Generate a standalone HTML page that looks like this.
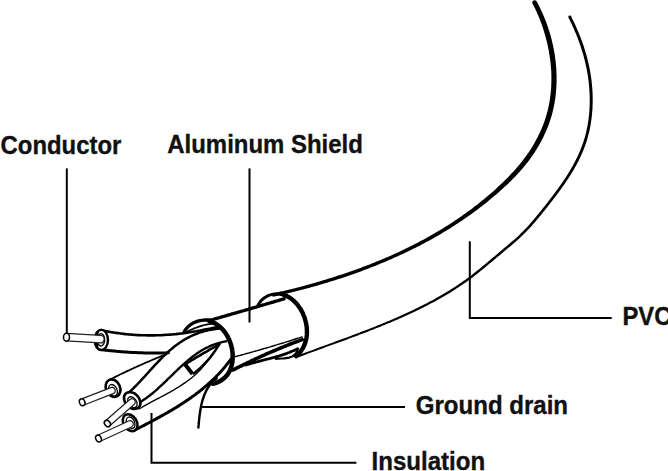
<!DOCTYPE html>
<html><head><meta charset="utf-8"><style>
html,body{margin:0;padding:0;background:#fff;width:668px;height:471px;overflow:hidden}
.f{fill:#000;stroke:none}
</style></head><body>
<svg width="668" height="471" viewBox="0 0 668 471" style="position:absolute;left:0;top:0">
<g fill="none" stroke="#000" stroke-linecap="round" stroke-linejoin="round">
<path d="M66.8,168.4 V333" stroke-width="2" stroke-linecap="butt"/>
<path d="M249.5,168.4 V322.5" stroke-width="2" stroke-linecap="butt"/>
<path d="M469.8,241.3 V318.1 H611.7" stroke-width="2" stroke-linecap="butt" stroke-linejoin="miter"/>
<path d="M202.1,407.1 H405" stroke-width="2" stroke-linecap="butt"/>
<path d="M151.5,413 V462.8 H356.4" stroke-width="2" stroke-linecap="butt" stroke-linejoin="miter"/>
<path d="M532.6,3.6 L533.3,4.9 L533.9,6.2 L534.6,7.5 L535.2,8.8 L535.8,10.2 L536.5,11.5 L537.1,12.9 L537.6,14.2 L538.2,15.6 L538.8,16.9 L539.4,18.3 L539.9,19.7 L540.4,21.1 L541.0,22.5 L541.5,23.9 L542.0,25.3 L542.4,26.7 L542.9,28.1 L543.4,29.5 L543.8,31.0 L544.3,32.4 L544.7,33.9 L545.1,35.3 L545.5,36.7 L545.9,38.2 L546.3,39.6 L546.7,41.1 L547.0,42.6 L547.4,44.0 L547.7,45.5 L548.0,47.0 L548.3,48.5 L548.6,49.9 L548.9,51.4 L549.1,52.9 L549.4,54.4 L549.6,55.9 L549.8,57.4 L550.1,58.9 L550.2,60.3 L550.4,61.8 L550.6,63.3 L550.7,64.8 L550.9,66.3 L551.0,67.8 L551.1,69.3 L551.2,70.8 L551.3,72.3 L551.3,73.8 L551.4,75.3 L551.4,76.8 L551.4,78.3 L551.4,79.8 L551.4,81.3 L551.3,82.8 L551.3,84.3 L551.2,85.8 L551.2,87.2 L551.1,88.7 L550.9,90.2 L550.8,91.7 L550.7,93.1 L550.5,94.6 L550.3,96.1 L550.1,97.5 L549.9,99.0 L549.7,100.5 L549.5,101.9 L549.2,103.4 L548.9,104.8 L548.6,106.2 L548.3,107.7 L548.0,109.1 L547.7,110.5 L547.3,111.9 L546.9,113.3 L546.5,114.7 L546.1,116.1 L545.7,117.5 L545.2,118.9 L544.8,120.3 L544.3,121.7 L543.8,123.1 L543.3,124.4 L542.8,125.8 L542.2,127.1 L541.7,128.5 L541.1,129.8 L540.5,131.2 L539.9,132.5 L539.3,133.8 L538.6,135.1 L538.0,136.5 L537.3,137.8 L536.6,139.1 L535.9,140.3 L535.2,141.6 L534.5,142.9 L533.8,144.2 L533.0,145.4 L532.3,146.7 L531.5,147.9 L530.7,149.2 L529.9,150.4 L529.1,151.7 L528.3,152.9 L527.4,154.1 L526.6,155.3 L525.7,156.5 L524.8,157.7 L523.9,158.9 L523.0,160.0 L522.1,161.2 L521.2,162.4 L520.3,163.5 L519.3,164.7 L518.4,165.8 L517.4,167.0 L516.5,168.1 L515.5,169.2 L514.5,170.3 L513.5,171.4 L512.5,172.5 L511.4,173.6 L510.4,174.7 L509.4,175.8 L508.3,176.9 L507.3,178.0 L506.2,179.0 L505.2,180.1 L504.1,181.1 L503.0,182.2 L501.9,183.2 L500.8,184.3 L499.7,185.3 L498.6,186.3 L497.5,187.3 L496.4,188.4 L495.3,189.4 L494.2,190.4 L493.1,191.4 L491.9,192.4 L490.8,193.4 L489.7,194.3 L488.5,195.3 L487.4,196.3 L486.2,197.3 L485.1,198.2 L483.9,199.2 L482.8,200.1 L481.6,201.1 L480.4,202.0 L479.3,203.0 L478.1,203.9 L476.9,204.8 L475.7,205.7 L474.5,206.6 L473.3,207.6 L472.1,208.5 L470.9,209.4 L469.7,210.3 L468.5,211.1 L467.3,212.0 L466.1,212.9 L464.9,213.8 L463.7,214.6 L462.4,215.5 L461.2,216.4 L460.0,217.2 L458.7,218.1 L457.5,218.9 L456.3,219.8 L455.0,220.6 L453.8,221.4 L452.5,222.2 L451.3,223.1 L450.0,223.9 L448.7,224.7 L447.5,225.5 L446.2,226.3 L444.9,227.1 L443.6,227.9 L442.4,228.7 L441.1,229.4 L439.8,230.2 L438.5,231.0 L437.2,231.8 L435.9,232.5 L434.6,233.3 L433.3,234.0 L432.0,234.8 L430.7,235.5 L429.4,236.3 L428.1,237.0 L426.8,237.7 L425.5,238.4 L424.2,239.2 L422.8,239.9 L421.5,240.6 L420.2,241.3 L418.9,242.0 L417.5,242.7 L416.2,243.4 L414.9,244.1 L413.5,244.8 L412.2,245.5 L410.8,246.1 L409.5,246.8 L408.1,247.5 L406.8,248.1 L405.4,248.8 L404.1,249.5 L402.7,250.1 L401.4,250.8 L400.0,251.4 L398.6,252.0 L397.3,252.7 L395.9,253.3 L394.5,253.9 L393.1,254.5 L391.8,255.2 L390.4,255.8 L389.0,256.4 L387.6,257.0 L386.2,257.6 L384.9,258.2 L383.5,258.8 L382.1,259.3 L380.7,259.9 L379.3,260.5 L377.9,261.1 L376.5,261.6 L375.1,262.2 L373.7,262.8 L372.3,263.3 L370.9,263.9 L369.5,264.4 L368.1,265.0 L366.7,265.5 L365.3,266.1 L363.9,266.6 L362.5,267.1 L361.1,267.7 L359.6,268.2 L358.2,268.7 L356.8,269.2 L355.4,269.7 L354.0,270.2 L352.5,270.7 L351.1,271.2 L349.7,271.7 L348.3,272.2 L346.9,272.7 L345.4,273.2 L344.0,273.7 L342.6,274.2 L341.1,274.7 L339.7,275.1 L338.3,275.6 L336.8,276.1 L335.4,276.5 L334.0,277.0 L332.5,277.4 L331.1,277.9 L329.7,278.3 L328.2,278.8 L326.8,279.2 L325.4,279.7 L323.9,280.1 L322.5,280.5 L321.0,281.0 L319.6,281.4 L318.2,281.8 L316.7,282.2 L315.3,282.7 L313.8,283.1 L312.4,283.5 L310.9,283.9 L309.5,284.3 L308.1,284.7 L306.6,285.1 L305.2,285.5 L303.7,285.9 L302.3,286.3 L300.8,286.7 L299.4,287.0 L297.9,287.4 L296.5,287.8 L295.0,288.2 L293.6,288.5 L292.1,288.9 L290.7,289.3 L289.3,289.6 L287.8,290.0 L286.4,290.3 L284.9,290.7 L283.5,291.0 L282.0,291.4 L280.6,291.7 L279.1,292.1 L277.7,292.4 L276.2,292.7 L274.8,293.1 L273.3,293.4 L271.9,293.7 L272.6,296.8 L274.0,296.5 L275.5,296.2 L276.9,295.9 L278.4,295.5 L279.9,295.2 L281.3,294.9 L282.8,294.5 L284.2,294.2 L285.7,293.8 L287.1,293.5 L288.6,293.1 L290.0,292.8 L291.5,292.4 L292.9,292.1 L294.4,291.7 L295.8,291.3 L297.3,291.0 L298.8,290.6 L300.2,290.2 L301.7,289.8 L303.1,289.5 L304.6,289.1 L306.0,288.7 L307.5,288.3 L308.9,287.9 L310.4,287.5 L311.8,287.1 L313.3,286.7 L314.7,286.3 L316.2,285.9 L317.6,285.5 L319.1,285.0 L320.5,284.6 L322.0,284.2 L323.4,283.8 L324.9,283.3 L326.3,282.9 L327.8,282.5 L329.2,282.0 L330.7,281.6 L332.1,281.1 L333.6,280.7 L335.0,280.2 L336.4,279.8 L337.9,279.3 L339.3,278.8 L340.8,278.4 L342.2,277.9 L343.6,277.4 L345.1,276.9 L346.5,276.4 L348.0,275.9 L349.4,275.5 L350.8,275.0 L352.2,274.5 L353.7,274.0 L355.1,273.4 L356.5,272.9 L358.0,272.4 L359.4,271.9 L360.8,271.4 L362.2,270.8 L363.7,270.3 L365.1,269.8 L366.5,269.2 L367.9,268.7 L369.3,268.2 L370.7,267.6 L372.2,267.1 L373.6,266.5 L375.0,265.9 L376.4,265.4 L377.8,264.8 L379.2,264.2 L380.6,263.6 L382.0,263.1 L383.4,262.5 L384.8,261.9 L386.2,261.3 L387.6,260.7 L389.0,260.1 L390.4,259.5 L391.8,258.9 L393.2,258.3 L394.5,257.6 L395.9,257.0 L397.3,256.4 L398.7,255.8 L400.1,255.1 L401.4,254.5 L402.8,253.9 L404.2,253.2 L405.6,252.6 L406.9,251.9 L408.3,251.3 L409.7,250.6 L411.0,249.9 L412.4,249.3 L413.7,248.6 L415.1,247.9 L416.5,247.2 L417.8,246.5 L419.2,245.9 L420.5,245.2 L421.8,244.5 L423.2,243.8 L424.5,243.0 L425.9,242.3 L427.2,241.6 L428.5,240.9 L429.9,240.2 L431.2,239.4 L432.5,238.7 L433.8,237.9 L435.1,237.2 L436.5,236.4 L437.8,235.7 L439.1,234.9 L440.4,234.2 L441.7,233.4 L443.0,232.6 L444.3,231.8 L445.6,231.1 L446.9,230.3 L448.2,229.5 L449.5,228.7 L450.7,227.9 L452.0,227.1 L453.3,226.2 L454.6,225.4 L455.8,224.6 L457.1,223.8 L458.4,222.9 L459.6,222.1 L460.9,221.3 L462.2,220.4 L463.4,219.6 L464.7,218.7 L465.9,217.8 L467.2,217.0 L468.4,216.1 L469.6,215.2 L470.9,214.4 L472.1,213.5 L473.3,212.6 L474.5,211.7 L475.8,210.8 L477.0,209.9 L478.2,209.0 L479.4,208.0 L480.6,207.1 L481.8,206.2 L483.0,205.2 L484.2,204.3 L485.4,203.4 L486.6,202.4 L487.8,201.5 L488.9,200.5 L490.1,199.6 L491.3,198.6 L492.5,197.6 L493.6,196.6 L494.8,195.6 L495.9,194.7 L497.1,193.7 L498.2,192.7 L499.4,191.7 L500.5,190.6 L501.7,189.6 L502.8,188.6 L503.9,187.6 L505.0,186.5 L506.2,185.5 L507.3,184.4 L508.4,183.4 L509.5,182.3 L510.6,181.2 L511.7,180.2 L512.7,179.1 L513.8,178.0 L514.9,176.9 L515.9,175.8 L517.0,174.7 L518.0,173.5 L519.0,172.4 L520.1,171.3 L521.1,170.1 L522.1,169.0 L523.1,167.8 L524.1,166.6 L525.0,165.5 L526.0,164.3 L526.9,163.1 L527.9,161.9 L528.8,160.7 L529.7,159.4 L530.6,158.2 L531.5,157.0 L532.4,155.7 L533.2,154.5 L534.1,153.2 L534.9,151.9 L535.7,150.6 L536.6,149.3 L537.3,148.0 L538.1,146.7 L538.9,145.4 L539.6,144.1 L540.4,142.8 L541.1,141.4 L541.8,140.1 L542.5,138.7 L543.2,137.4 L543.8,136.0 L544.5,134.6 L545.1,133.3 L545.7,131.9 L546.4,130.5 L546.9,129.1 L547.5,127.7 L548.1,126.3 L548.6,124.8 L549.1,123.4 L549.6,122.0 L550.1,120.5 L550.6,119.1 L551.0,117.6 L551.5,116.2 L551.9,114.7 L552.3,113.2 L552.7,111.8 L553.0,110.3 L553.4,108.8 L553.7,107.3 L554.0,105.8 L554.3,104.3 L554.6,102.8 L554.8,101.3 L555.1,99.8 L555.3,98.3 L555.5,96.7 L555.7,95.2 L555.8,93.7 L556.0,92.2 L556.1,90.6 L556.2,89.1 L556.3,87.5 L556.4,86.0 L556.5,84.5 L556.5,82.9 L556.6,81.4 L556.6,79.8 L556.6,78.3 L556.6,76.7 L556.6,75.2 L556.5,73.6 L556.4,72.1 L556.4,70.5 L556.3,69.0 L556.2,67.4 L556.0,65.9 L555.9,64.3 L555.8,62.8 L555.6,61.3 L555.4,59.7 L555.2,58.2 L555.0,56.6 L554.8,55.1 L554.5,53.6 L554.3,52.0 L554.0,50.5 L553.7,49.0 L553.4,47.4 L553.1,45.9 L552.8,44.4 L552.4,42.9 L552.1,41.4 L551.7,39.8 L551.3,38.3 L550.9,36.8 L550.5,35.3 L550.1,33.9 L549.7,32.4 L549.2,30.9 L548.7,29.4 L548.2,28.0 L547.7,26.5 L547.2,25.0 L546.7,23.6 L546.2,22.2 L545.6,20.7 L545.0,19.3 L544.5,17.9 L543.9,16.5 L543.3,15.0 L542.7,13.7 L542.1,12.3 L541.4,10.9 L540.8,9.5 L540.1,8.1 L539.4,6.8 L538.8,5.4 L538.1,4.1 L537.4,2.8 L536.7,1.5Z" class="f"/>
<circle cx="534.6" cy="2.5" r="2.30" class="f"/>
<path d="M568.5,17.7 L569.2,19.0 L569.8,20.3 L570.5,21.7 L571.1,23.0 L571.8,24.4 L572.4,25.7 L573.0,27.1 L573.6,28.5 L574.2,29.8 L574.8,31.2 L575.4,32.6 L576.0,34.0 L576.5,35.3 L577.1,36.7 L577.6,38.1 L578.2,39.5 L578.7,40.9 L579.2,42.3 L579.7,43.7 L580.2,45.1 L580.7,46.6 L581.1,48.0 L581.6,49.4 L582.0,50.8 L582.5,52.3 L582.9,53.7 L583.3,55.1 L583.7,56.6 L584.1,58.0 L584.5,59.5 L584.8,60.9 L585.2,62.3 L585.5,63.8 L585.8,65.3 L586.1,66.7 L586.5,68.2 L586.7,69.6 L587.0,71.1 L587.3,72.6 L587.5,74.1 L587.8,75.5 L588.0,77.0 L588.2,78.5 L588.4,80.0 L588.6,81.5 L588.8,82.9 L588.9,84.4 L589.1,85.9 L589.2,87.4 L589.3,88.9 L589.4,90.4 L589.5,91.9 L589.6,93.4 L589.6,94.9 L589.7,96.4 L589.7,97.9 L589.7,99.4 L589.7,100.9 L589.7,102.4 L589.7,103.9 L589.6,105.4 L589.6,106.9 L589.5,108.4 L589.4,109.9 L589.3,111.4 L589.2,112.9 L589.1,114.4 L588.9,115.8 L588.7,117.3 L588.6,118.8 L588.4,120.3 L588.1,121.8 L587.9,123.2 L587.7,124.7 L587.4,126.2 L587.1,127.6 L586.8,129.1 L586.5,130.5 L586.2,132.0 L585.8,133.4 L585.5,134.8 L585.1,136.3 L584.7,137.7 L584.3,139.1 L583.8,140.5 L583.4,141.9 L582.9,143.3 L582.4,144.7 L581.9,146.1 L581.4,147.5 L580.8,148.8 L580.3,150.2 L579.7,151.6 L579.1,152.9 L578.5,154.3 L577.9,155.6 L577.3,157.0 L576.6,158.3 L576.0,159.6 L575.3,160.9 L574.6,162.3 L573.9,163.6 L573.2,164.9 L572.5,166.2 L571.7,167.5 L571.0,168.8 L570.2,170.1 L569.5,171.3 L568.7,172.6 L567.9,173.9 L567.1,175.2 L566.3,176.4 L565.5,177.7 L564.6,179.0 L563.8,180.2 L563.0,181.5 L562.1,182.7 L561.2,183.9 L560.4,185.2 L559.5,186.4 L558.6,187.7 L557.7,188.9 L556.8,190.1 L556.0,191.3 L555.1,192.5 L554.1,193.8 L553.2,195.0 L552.3,196.2 L551.4,197.4 L550.5,198.6 L549.6,199.8 L548.6,201.0 L547.7,202.2 L546.8,203.4 L545.8,204.6 L544.9,205.8 L544.0,206.9 L543.0,208.1 L542.1,209.3 L541.2,210.5 L540.2,211.6 L539.3,212.8 L538.3,214.0 L537.4,215.1 L536.4,216.3 L535.5,217.4 L534.5,218.6 L533.6,219.7 L532.6,220.8 L531.6,222.0 L530.6,223.1 L529.7,224.2 L528.7,225.3 L527.7,226.4 L526.7,227.5 L525.6,228.6 L524.6,229.6 L523.6,230.7 L522.5,231.7 L521.5,232.8 L520.4,233.8 L519.4,234.9 L518.3,235.9 L517.2,236.9 L516.1,237.9 L515.0,238.9 L513.9,239.9 L512.8,240.8 L511.6,241.8 L510.5,242.8 L509.4,243.8 L508.2,244.7 L507.1,245.7 L505.9,246.7 L504.8,247.6 L503.6,248.6 L502.5,249.6 L501.3,250.5 L500.1,251.5 L499.0,252.5 L497.8,253.4 L496.7,254.4 L495.5,255.4 L494.4,256.4 L493.2,257.3 L492.1,258.3 L490.9,259.3 L489.8,260.3 L488.6,261.3 L487.4,262.2 L486.3,263.2 L485.1,264.2 L484.0,265.1 L482.8,266.1 L481.7,267.0 L480.5,268.0 L479.3,269.0 L478.2,269.9 L477.0,270.8 L475.8,271.8 L474.6,272.7 L473.5,273.6 L472.3,274.6 L471.1,275.5 L469.9,276.4 L468.7,277.3 L467.5,278.2 L466.3,279.0 L465.1,279.9 L463.8,280.8 L462.6,281.6 L461.4,282.5 L460.1,283.3 L458.9,284.2 L457.7,285.0 L456.4,285.8 L455.2,286.7 L453.9,287.5 L452.6,288.3 L451.4,289.1 L450.1,289.9 L448.8,290.7 L447.6,291.4 L446.3,292.2 L445.0,293.0 L443.7,293.8 L442.4,294.5 L441.1,295.3 L439.8,296.0 L438.5,296.7 L437.2,297.5 L435.9,298.2 L434.6,298.9 L433.3,299.7 L432.0,300.4 L430.6,301.1 L429.3,301.8 L428.0,302.5 L426.7,303.2 L425.3,303.9 L424.0,304.6 L422.7,305.2 L421.3,305.9 L420.0,306.6 L418.6,307.3 L417.3,307.9 L416.0,308.6 L414.6,309.2 L413.3,309.9 L411.9,310.5 L410.5,311.2 L409.2,311.8 L407.8,312.4 L406.5,313.1 L405.1,313.7 L403.7,314.3 L402.4,314.9 L401.0,315.6 L399.6,316.2 L398.2,316.8 L396.9,317.4 L395.5,318.0 L394.1,318.6 L392.7,319.2 L391.4,319.8 L390.0,320.4 L388.6,320.9 L387.2,321.5 L385.8,322.1 L384.4,322.7 L383.0,323.3 L381.6,323.8 L380.2,324.4 L378.8,325.0 L377.5,325.5 L376.1,326.1 L374.7,326.7 L373.3,327.2 L371.9,327.8 L370.5,328.3 L369.1,328.9 L367.6,329.4 L366.2,330.0 L364.8,330.5 L363.4,331.1 L362.0,331.6 L360.6,332.1 L359.2,332.7 L357.8,333.2 L356.4,333.8 L355.0,334.3 L353.6,334.8 L352.2,335.3 L350.7,335.9 L349.3,336.4 L347.9,336.9 L346.5,337.5 L345.1,338.0 L343.7,338.5 L342.3,339.0 L340.9,339.6 L339.4,340.1 L338.0,340.6 L336.6,341.1 L335.2,341.6 L333.8,342.2 L332.4,342.7 L330.9,343.2 L329.5,343.7 L328.1,344.2 L326.7,344.7 L325.3,345.2 L323.9,345.8 L322.5,346.3 L321.0,346.8 L319.6,347.3 L318.2,347.8 L316.8,348.3 L315.4,348.9 L314.0,349.4 L312.6,349.9 L311.2,350.4 L309.8,350.9 L308.3,351.4 L306.9,352.0 L305.5,352.5 L304.1,353.0 L302.7,353.5 L301.3,354.1 L299.9,354.6 L298.5,355.1 L297.1,355.6 L295.7,356.2 L296.4,358.0 L297.8,357.5 L299.2,357.0 L300.6,356.5 L302.0,355.9 L303.4,355.4 L304.8,354.9 L306.2,354.4 L307.6,353.8 L309.0,353.3 L310.4,352.8 L311.9,352.3 L313.3,351.8 L314.7,351.3 L316.1,350.7 L317.5,350.2 L318.9,349.7 L320.3,349.2 L321.7,348.7 L323.1,348.2 L324.6,347.6 L326.0,347.1 L327.4,346.6 L328.8,346.1 L330.2,345.6 L331.6,345.1 L333.1,344.5 L334.5,344.0 L335.9,343.5 L337.3,343.0 L338.7,342.5 L340.1,342.0 L341.6,341.5 L343.0,340.9 L344.4,340.4 L345.8,339.9 L347.2,339.4 L348.6,338.8 L350.0,338.3 L351.5,337.8 L352.9,337.3 L354.3,336.7 L355.7,336.2 L357.1,335.7 L358.5,335.2 L359.9,334.6 L361.4,334.1 L362.8,333.5 L364.2,333.0 L365.6,332.5 L367.0,331.9 L368.4,331.4 L369.8,330.8 L371.2,330.3 L372.6,329.7 L374.0,329.2 L375.4,328.6 L376.8,328.1 L378.2,327.5 L379.6,327.0 L381.0,326.4 L382.4,325.8 L383.8,325.2 L385.2,324.7 L386.6,324.1 L388.0,323.5 L389.4,322.9 L390.8,322.4 L392.2,321.8 L393.6,321.2 L395.0,320.6 L396.4,320.0 L397.7,319.4 L399.1,318.8 L400.5,318.2 L401.9,317.6 L403.3,316.9 L404.6,316.3 L406.0,315.7 L407.4,315.1 L408.8,314.5 L410.1,313.8 L411.5,313.2 L412.9,312.5 L414.2,311.9 L415.6,311.2 L416.9,310.6 L418.3,309.9 L419.6,309.3 L421.0,308.6 L422.3,307.9 L423.7,307.3 L425.0,306.6 L426.4,305.9 L427.7,305.2 L429.0,304.5 L430.4,303.8 L431.7,303.1 L433.0,302.4 L434.4,301.7 L435.7,300.9 L437.0,300.2 L438.3,299.5 L439.6,298.8 L441.0,298.0 L442.3,297.3 L443.6,296.5 L444.9,295.8 L446.2,295.0 L447.5,294.2 L448.8,293.4 L450.1,292.7 L451.3,291.9 L452.6,291.1 L453.9,290.3 L455.2,289.5 L456.4,288.6 L457.7,287.8 L459.0,287.0 L460.2,286.1 L461.5,285.3 L462.7,284.5 L464.0,283.6 L465.2,282.7 L466.4,281.9 L467.7,281.0 L468.9,280.1 L470.1,279.2 L471.3,278.3 L472.5,277.4 L473.7,276.5 L474.9,275.5 L476.1,274.6 L477.3,273.7 L478.5,272.7 L479.7,271.8 L480.9,270.8 L482.0,269.9 L483.2,268.9 L484.4,268.0 L485.5,267.0 L486.7,266.0 L487.9,265.1 L489.0,264.1 L490.2,263.1 L491.3,262.2 L492.5,261.2 L493.7,260.2 L494.8,259.2 L496.0,258.3 L497.1,257.3 L498.3,256.3 L499.4,255.4 L500.6,254.4 L501.7,253.4 L502.9,252.5 L504.1,251.5 L505.2,250.5 L506.4,249.6 L507.5,248.6 L508.7,247.6 L509.8,246.7 L511.0,245.7 L512.1,244.7 L513.3,243.7 L514.4,242.8 L515.6,241.8 L516.7,240.8 L517.8,239.8 L518.9,238.8 L520.0,237.7 L521.1,236.7 L522.2,235.7 L523.3,234.6 L524.4,233.6 L525.4,232.5 L526.5,231.4 L527.5,230.3 L528.5,229.3 L529.6,228.2 L530.6,227.0 L531.6,225.9 L532.6,224.8 L533.6,223.7 L534.6,222.6 L535.6,221.4 L536.5,220.3 L537.5,219.1 L538.5,218.0 L539.4,216.8 L540.4,215.7 L541.3,214.5 L542.3,213.3 L543.2,212.1 L544.2,211.0 L545.1,209.8 L546.1,208.6 L547.0,207.4 L547.9,206.2 L548.9,205.0 L549.8,203.8 L550.7,202.6 L551.7,201.4 L552.6,200.2 L553.5,199.0 L554.5,197.8 L555.4,196.6 L556.3,195.4 L557.2,194.2 L558.1,192.9 L559.0,191.7 L559.9,190.5 L560.8,189.2 L561.7,188.0 L562.6,186.8 L563.5,185.5 L564.4,184.3 L565.2,183.0 L566.1,181.7 L566.9,180.5 L567.8,179.2 L568.6,177.9 L569.4,176.7 L570.2,175.4 L571.1,174.1 L571.8,172.8 L572.6,171.5 L573.4,170.2 L574.2,168.9 L574.9,167.6 L575.7,166.2 L576.4,164.9 L577.1,163.6 L577.8,162.2 L578.5,160.9 L579.2,159.5 L579.8,158.2 L580.5,156.8 L581.1,155.4 L581.7,154.1 L582.3,152.7 L582.9,151.3 L583.5,149.9 L584.0,148.5 L584.6,147.1 L585.1,145.7 L585.6,144.3 L586.1,142.8 L586.6,141.4 L587.0,139.9 L587.4,138.5 L587.8,137.0 L588.2,135.6 L588.6,134.1 L589.0,132.6 L589.3,131.2 L589.7,129.7 L590.0,128.2 L590.3,126.7 L590.5,125.2 L590.8,123.7 L591.0,122.2 L591.2,120.7 L591.5,119.2 L591.6,117.7 L591.8,116.2 L592.0,114.7 L592.1,113.1 L592.2,111.6 L592.4,110.1 L592.5,108.6 L592.5,107.0 L592.6,105.5 L592.6,104.0 L592.7,102.5 L592.7,100.9 L592.7,99.4 L592.7,97.9 L592.7,96.3 L592.6,94.8 L592.6,93.3 L592.5,91.8 L592.4,90.2 L592.3,88.7 L592.2,87.2 L592.0,85.7 L591.9,84.1 L591.7,82.6 L591.6,81.1 L591.4,79.6 L591.2,78.1 L591.0,76.6 L590.7,75.1 L590.5,73.6 L590.2,72.1 L590.0,70.6 L589.7,69.1 L589.4,67.6 L589.1,66.1 L588.8,64.6 L588.4,63.1 L588.1,61.7 L587.7,60.2 L587.4,58.7 L587.0,57.2 L586.6,55.8 L586.2,54.3 L585.8,52.9 L585.3,51.4 L584.9,49.9 L584.4,48.5 L584.0,47.1 L583.5,45.6 L583.0,44.2 L582.5,42.8 L582.0,41.3 L581.5,39.9 L580.9,38.5 L580.4,37.1 L579.8,35.6 L579.3,34.2 L578.7,32.8 L578.1,31.4 L577.5,30.0 L576.9,28.7 L576.3,27.3 L575.7,25.9 L575.1,24.5 L574.4,23.1 L573.8,21.8 L573.1,20.4 L572.4,19.0 L571.7,17.7 L571.1,16.3Z" class="f"/>
<circle cx="569.8" cy="17.0" r="1.45" class="f"/>
<path d="M258.0,305.2 L258.9,303.7 L259.8,302.3 L260.8,301.0 L262.0,299.8 L263.2,298.7 L264.5,297.8 L265.9,296.9 L267.3,296.1 L268.8,295.4 L270.4,294.9 L272.0,294.4 L273.6,294.1 L275.3,293.9 L276.9,293.8 L278.6,293.8 L280.3,294.0 L282.0,294.3" stroke-width="3.0" stroke-linecap="round"/>
<path d="M280.5,293.7 L282.0,294.1 L283.5,294.6 L284.9,295.1 L286.3,295.8 L287.6,296.5 L289.0,297.2 L290.2,298.1 L291.5,298.9 L292.7,299.9 L293.8,300.9 L294.9,302.0 L296.0,303.1 L297.0,304.2 L298.0,305.5 L298.9,306.7 L299.8,308.0 L300.7,309.3 L301.4,310.7 L302.2,312.1 L302.9,313.5 L303.5,315.0 L304.1,316.4 L304.6,317.9 L305.1,319.5 L305.5,321.0 L305.9,322.5 L306.2,324.1 L306.5,325.6 L306.7,327.2 L306.8,328.8 L306.9,330.3 L306.9,331.9 L306.9,333.5 L306.8,335.0 L306.6,336.5 L306.4,338.1 L306.1,339.6 L305.7,341.0 L305.3,342.5 L304.8,343.9 L304.2,345.3 L303.6,346.7 L302.9,348.0 L302.1,349.3 L301.3,350.6 L300.4,351.8 L299.4,353.0 L298.3,354.1 L297.2,355.2 L296.0,356.2" stroke-width="4.4" stroke-linecap="round"/>
<path d="M275.7,358.8 L277.3,358.7 L278.9,358.6 L280.6,358.5 L282.4,358.5 L284.1,358.4 L285.9,358.2 L287.6,357.9 L289.3,357.6 L290.8,357.0 L292.3,356.4 L293.7,355.5 L295.0,354.4 L296.0,353.1 L296.9,351.6 L297.6,349.7" stroke-width="2.2" stroke-linecap="round"/>
<path d="M210.0,320.3 L211.5,319.9 L213.0,319.5 L214.4,319.0 L215.9,318.6 L217.4,318.2 L218.9,317.8 L220.4,317.3 L221.9,316.9 L223.3,316.5 L224.8,316.1 L226.3,315.6 L227.8,315.2 L229.3,314.8 L230.7,314.4 L232.2,313.9 L233.7,313.5 L235.2,313.1 L236.7,312.7 L238.2,312.2 L239.6,311.8 L241.1,311.4 L242.6,311.0 L244.1,310.5 L245.6,310.1 L247.0,309.7 L248.5,309.2 L250.0,308.8 L251.5,308.4 L253.0,307.9 L254.4,307.5 L255.9,307.1 L257.4,306.6 L258.9,306.2 L260.3,305.8 L261.8,305.3 L263.3,304.9 L264.8,304.5 L266.3,304.0 L267.7,303.6 L269.2,303.2 L270.7,302.7 L272.2,302.3 L273.7,301.9 L275.1,301.4 L276.6,301.0 L278.1,300.6 L279.6,300.1 L281.0,299.7 L282.5,299.2 L284.0,298.8" stroke-width="3.3" stroke-linecap="round"/>
<path d="M234.7,356.8 L236.2,356.4 L237.7,356.0 L239.2,355.6 L240.7,355.2 L242.3,354.8 L243.8,354.4 L245.3,353.9 L246.8,353.5 L248.3,353.1 L249.8,352.7 L251.3,352.3 L252.8,351.9 L254.3,351.4 L255.8,351.0 L257.3,350.6 L258.8,350.1 L260.3,349.7 L261.8,349.3 L263.3,348.8 L264.8,348.4 L266.3,348.0 L267.8,347.5 L269.3,347.1 L270.8,346.6 L272.3,346.2 L273.8,345.8 L275.3,345.3 L276.8,344.9 L278.3,344.4 L279.8,343.9 L281.3,343.5 L282.8,343.0 L284.3,342.6 L285.8,342.1 L287.3,341.6 L288.8,341.2 L290.3,340.7 L291.8,340.2 L293.3,339.8 L294.8,339.3 L296.2,338.8 L297.7,338.3 L299.2,337.9 L300.7,337.4 L302.2,336.9" stroke-width="1.5" stroke-linecap="round"/>
<path d="M233.0,370.0 L234.4,369.3 L235.7,368.6 L237.1,367.9 L238.5,367.2 L239.9,366.5 L241.3,365.8 L242.7,365.1 L244.0,364.4 L245.4,363.8 L246.8,363.1 L248.2,362.4 L249.6,361.8 L251.0,361.1 L252.4,360.4 L253.8,359.8 L255.2,359.1 L256.6,358.5 L258.0,357.8 L259.4,357.2 L260.8,356.6 L262.2,355.9 L263.6,355.3 L265.0,354.7 L266.4,354.0 L267.8,353.4 L269.2,352.8 L270.7,352.2 L272.1,351.6 L273.5,351.0 L274.9,350.4 L276.3,349.8 L277.8,349.2 L279.2,348.6 L280.6,348.0 L282.0,347.4 L283.5,346.8 L284.9,346.2 L286.3,345.7 L287.8,345.1 L289.2,344.5 L290.6,344.0 L292.1,343.4 L293.5,342.9 L295.0,342.3 L296.4,341.8 L297.9,341.2 L299.3,340.7 L300.7,340.1 L302.2,339.6" stroke-width="3.6" stroke-linecap="round"/>
<path d="M246.0,365.0 L247.5,364.5 L249.0,364.1 L250.4,363.6 L251.9,363.2 L253.4,362.8 L254.9,362.4 L256.4,362.0 L257.9,361.6 L259.4,361.2 L260.9,360.8 L262.4,360.4 L263.9,360.0 L265.4,359.6 L266.9,359.2 L268.4,358.9 L269.9,358.5 L271.4,358.1 L272.9,357.7 L274.4,357.3 L275.8,356.8 L277.3,356.4 L278.8,356.0 L280.3,355.5 L281.8,355.1 L283.2,354.6 L284.7,354.1 L286.2,353.6 L287.6,353.0 L289.1,352.5 L290.5,351.9 L291.9,351.3 L293.4,350.7 L294.8,350.1 L296.2,349.4 L297.6,348.7" stroke-width="2.8" stroke-linecap="round"/>
<path d="M183.9,332.3 L184.7,330.9 L185.6,329.5 L186.6,328.3 L187.7,327.1 L188.9,326.0 L190.1,325.0 L191.4,324.1 L192.8,323.3 L194.2,322.6 L195.7,321.9 L197.2,321.4 L198.7,320.9 L200.3,320.6 L201.9,320.3 L203.5,320.1 L205.1,320.0 L206.7,320.0 L208.3,320.0 L209.9,320.2 L211.4,320.5 L213.0,320.8" stroke-width="3.3" stroke-linecap="round"/>
<path d="M186.0,332.0 L187.5,331.3 L189.0,330.7 L190.5,330.0 L192.0,329.4 L193.5,328.7 L195.1,328.1 L196.6,327.5 L198.2,326.9 L199.8,326.4 L201.4,325.9 L202.9,325.4 L204.5,325.0 L206.2,324.6 L207.8,324.3 L209.4,324.1 L211.0,323.9 L212.7,323.8 L214.3,323.8 L216.0,323.8" stroke-width="1.8" stroke-linecap="round"/>
<path d="M209.4,321.1 L210.9,321.6 L212.3,322.1 L213.7,322.7 L215.1,323.4 L216.4,324.2 L217.6,325.1 L218.9,326.0 L220.0,327.0 L221.2,328.0 L222.2,329.1 L223.3,330.3 L224.3,331.5 L225.2,332.7 L226.1,334.0 L226.9,335.4 L227.7,336.7 L228.4,338.2 L229.1,339.6 L229.7,341.1 L230.3,342.6 L230.8,344.1 L231.2,345.6 L231.6,347.2 L232.0,348.7 L232.2,350.3 L232.5,351.9 L232.6,353.4 L232.7,355.0 L232.7,356.6 L232.7,358.1 L232.6,359.7 L232.5,361.2 L232.2,362.7 L231.9,364.2 L231.6,365.7 L231.2,367.1 L230.7,368.5 L230.1,369.9 L229.5,371.2 L228.8,372.5 L228.0,373.7 L227.2,374.9 L226.2,376.0 L225.3,377.1 L224.2,378.1 L223.0,379.1 L221.8,380.0 L220.5,380.8 L219.2,381.5 L217.7,382.2 L216.2,382.8 L214.6,383.3 L212.9,383.7" stroke-width="4.5" stroke-linecap="round"/>
<path d="M198.4,427.6 L198.5,426.2 L198.7,424.7 L198.8,423.2 L198.9,421.7 L199.1,420.2 L199.2,418.6 L199.4,417.1 L199.6,415.5 L199.8,414.0 L200.0,412.4 L200.3,410.8 L200.5,409.3 L200.8,407.7 L201.1,406.1 L201.4,404.6 L201.8,403.0 L202.2,401.5 L202.6,400.0 L203.1,398.5 L203.6,397.0 L204.1,395.5 L204.7,394.1 L205.3,392.7 L206.0,391.3 L206.7,389.9 L207.5,388.6 L208.3,387.3 L209.1,386.0 L210.0,384.8 L211.0,383.6 L212.0,382.4 L213.1,381.3 L214.2,380.3 L215.4,379.3 L216.7,378.3" stroke-width="2.4" stroke-linecap="round"/>
<path d="M101.0,330.1 L102.5,330.4 L104.0,330.8 L105.6,331.1 L107.1,331.4 L108.6,331.6 L110.1,331.9 L111.7,332.2 L113.2,332.4 L114.7,332.7 L116.2,332.9 L117.8,333.1 L119.3,333.3 L120.8,333.5 L122.4,333.7 L123.9,333.9 L125.4,334.1 L127.0,334.2 L128.5,334.4 L130.0,334.5 L131.6,334.6 L133.1,334.8 L134.6,334.9 L136.2,335.0 L137.7,335.1 L139.2,335.1 L140.8,335.2 L142.3,335.3 L143.8,335.3 L145.4,335.3 L146.9,335.4 L148.4,335.4 L150.0,335.4 L151.5,335.4 L153.0,335.4 L154.6,335.4 L156.1,335.3 L157.6,335.3 L159.2,335.2 L160.7,335.2 L162.2,335.1 L163.8,335.0 L165.3,334.9 L166.8,334.8 L168.4,334.7 L169.9,334.6 L171.4,334.5 L172.9,334.4 L174.5,334.2 L176.0,334.1 L177.5,333.9 L179.1,333.7 L180.6,333.5 L182.1,333.4 L183.6,333.2 L185.2,332.9 L186.7,332.7 L188.2,332.5 L189.7,332.3 L191.2,332.0 L192.8,331.8 L194.3,331.5 L195.8,331.3 L197.3,331.0 L198.8,330.7 L200.3,330.5 L201.8,330.2 L203.4,329.9 L204.9,329.6 L206.4,329.3 L207.9,329.0 L209.4,328.7 L210.9,328.4 L212.4,328.1 L213.9,327.8 L215.4,327.5 L217.0,327.2" stroke-width="2.6" stroke-linecap="round"/>
<path d="M101.0,349.6 L102.5,349.8 L104.1,350.0 L105.6,350.2 L107.1,350.3 L108.6,350.5 L110.2,350.7 L111.7,350.8 L113.2,351.0 L114.7,351.1 L116.3,351.3 L117.8,351.4 L119.3,351.5 L120.9,351.7 L122.4,351.8 L123.9,351.9 L125.4,352.0 L127.0,352.1 L128.5,352.2 L130.0,352.3 L131.6,352.4 L133.1,352.5 L134.6,352.5 L136.2,352.6 L137.7,352.7 L139.2,352.7 L140.8,352.8 L142.3,352.8 L143.8,352.9 L145.4,352.9 L146.9,352.9 L148.4,353.0 L150.0,353.0 L151.5,353.0 L153.0,353.0 L154.6,353.0 L156.1,353.0 L157.6,353.0 L159.2,353.0 L160.7,353.0 L162.2,353.0 L163.8,352.9 L165.3,352.9 L166.9,352.8 L168.4,352.8" stroke-width="3" stroke-linecap="round"/>
<ellipse cx="101.35" cy="339.97" rx="6.63" ry="10.08" transform="rotate(-179.8 101.35 339.97)" stroke-width="2.4" fill="#fff"/>
<path d="M97.0,346.5 L96.2,344.8 L95.6,343.1 L95.3,341.4 L95.2,339.7 L95.3,338.1 L95.7,336.4 L96.3,334.7 L97.2,333.0" stroke-width="3.2" stroke-linecap="round"/>
<ellipse cx="101" cy="339.8" rx="3.7" ry="6.2" transform="rotate(0 101 339.8)" stroke-width="1.3" fill="#fff"/>
<path d="M66.72,333.41 L100.72,335.41 A3.80,3.80 0 0 1 100.28,342.99 L66.28,340.99 Z" stroke-width="1.25" fill="#fff" stroke="#222"/>
<ellipse cx="66.5" cy="337.2" rx="3.0" ry="4.0" transform="rotate(3.4 66.5 337.2)" stroke-width="1.5" fill="#fff"/>
<path d="M110.7,379.2 L112.1,378.5 L113.5,377.8 L114.9,377.1 L116.3,376.4 L117.7,375.7 L119.1,375.0 L120.5,374.3 L122.0,373.6 L123.4,372.9 L124.8,372.3 L126.2,371.6 L127.6,370.9 L129.0,370.3 L130.5,369.6 L131.9,368.9 L133.3,368.3 L134.7,367.6 L136.2,367.0 L137.6,366.3 L139.0,365.7 L140.5,365.0 L141.9,364.4 L143.3,363.8 L144.8,363.1 L146.2,362.5 L147.6,361.9 L149.1,361.3 L150.5,360.7 L152.0,360.0 L153.4,359.4 L154.9,358.8 L156.3,358.2 L157.8,357.6 L159.2,357.0 L160.7,356.4 L162.1,355.8 L163.6,355.3 L165.0,354.7 L166.5,354.1" stroke-width="1.8" stroke-linecap="round"/>
<ellipse cx="113.04" cy="388.16" rx="7.02" ry="9.06" transform="rotate(155.1 113.04 388.16)" stroke-width="2.6" fill="#fff"/>
<ellipse cx="113" cy="390.2" rx="4.0" ry="6.0" transform="rotate(-25 113 390.2)" stroke-width="1.3" fill="#fff"/>
<path d="M81.02,399.17 L110.82,387.57 A3.25,3.25 0 0 1 113.18,393.63 L83.38,405.23 Z" stroke-width="1.25" fill="#fff" stroke="#222"/>
<ellipse cx="82.2" cy="402.2" rx="2.7" ry="3.5" transform="rotate(-21.3 82.2 402.2)" stroke-width="1.5" fill="#fff"/>
<path d="M129.8,391.7 L130.9,390.7 L132.0,389.7 L133.1,388.6 L134.1,387.5 L135.2,386.5 L136.3,385.4 L137.3,384.3 L138.4,383.2 L139.4,382.1 L140.5,381.0 L141.5,379.9 L142.6,378.7 L143.6,377.6 L144.6,376.5 L145.7,375.3 L146.7,374.2 L147.8,373.0 L148.8,371.9 L149.8,370.7 L150.9,369.6 L151.9,368.4 L152.9,367.3 L154.0,366.2 L155.0,365.0 L156.1,363.9 L157.2,362.8 L158.2,361.6 L159.3,360.5 L160.4,359.4 L161.4,358.3 L162.5,357.2 L163.6,356.2 L164.7,355.1 L165.8,354.0 L166.9,353.0 L168.1,352.0 L169.2,350.9 L170.3,349.9 L171.5,349.0 L172.7,348.0 L173.8,347.0 L175.0,346.1 L176.2,345.2 L177.5,344.3 L178.7,343.4 L179.9,342.5 L181.2,341.7 L182.4,340.9 L183.7,340.1 L185.0,339.3 L186.3,338.6 L187.7,337.9 L189.0,337.2 L190.3,336.5 L191.7,335.8 L193.1,335.2 L194.5,334.6 L195.9,334.0 L197.3,333.5 L198.8,332.9 L200.2,332.4 L201.7,332.0 L203.2,331.5 L204.7,331.1 L206.2,330.7 L207.7,330.4 L209.2,330.0 L210.8,329.7 L212.4,329.5 L214.0,329.2 L215.6,329.0 L217.2,328.8 L218.8,328.7" stroke-width="2.5" stroke-linecap="round"/>
<path d="M140.7,401.8 L142.0,401.0 L143.3,400.1 L144.5,399.3 L145.8,398.4 L147.0,397.5 L148.2,396.6 L149.5,395.7 L150.7,394.7 L151.9,393.8 L153.0,392.8 L154.2,391.8 L155.4,390.8 L156.5,389.8 L157.7,388.8 L158.8,387.7 L160.0,386.7 L161.1,385.6 L162.2,384.6 L163.4,383.5 L164.5,382.5 L165.6,381.4 L166.7,380.3 L167.8,379.2 L168.9,378.1 L170.0,377.1 L171.1,376.0 L172.3,374.9 L173.4,373.8 L174.5,372.7 L175.6,371.7 L176.7,370.6 L177.8,369.5 L178.9,368.5 L180.0,367.4 L181.2,366.4 L182.3,365.3 L183.4,364.3 L184.6,363.3 L185.7,362.3 L186.9,361.3 L188.0,360.3 L189.2,359.3 L190.4,358.4 L191.6,357.4 L192.8,356.5 L194.0,355.6 L195.2,354.7 L196.5,353.8 L197.7,353.0 L199.0,352.1 L200.3,351.3 L201.5,350.5 L202.8,349.8 L204.2,349.0 L205.5,348.3 L206.8,347.6 L208.2,347.0 L209.6,346.3 L211.0,345.7 L212.4,345.1 L213.9,344.6 L215.3,344.1 L216.8,343.6 L218.3,343.1 L219.8,342.7 L221.4,342.3 L222.9,341.9 L224.5,341.6 L226.2,341.3" stroke-width="2.4" stroke-linecap="round"/>
<ellipse cx="132.21" cy="400.57" rx="7.05" ry="9.46" transform="rotate(137.8 132.21 400.57)" stroke-width="2.6" fill="#fff"/>
<ellipse cx="132.4" cy="402.2" rx="4.0" ry="6.0" transform="rotate(-35 132.4 402.2)" stroke-width="1.3" fill="#fff"/>
<path d="M105.26,421.05 L129.86,399.55 A3.25,3.25 0 0 1 134.14,404.45 L109.54,425.95 Z" stroke-width="1.25" fill="#fff" stroke="#222"/>
<ellipse cx="107.4" cy="423.5" rx="2.7" ry="3.5" transform="rotate(-41.2 107.4 423.5)" stroke-width="1.5" fill="#fff"/>
<path d="M139.0,409.0 L140.4,408.2 L141.7,407.5 L143.0,406.7 L144.4,405.9 L145.7,405.2 L147.0,404.4 L148.4,403.7 L149.8,402.9 L151.1,402.2 L152.5,401.4 L153.9,400.7 L155.3,400.0 L156.6,399.2 L158.0,398.5 L159.4,397.8 L160.8,397.0 L162.1,396.3 L163.5,395.6 L164.9,394.8 L166.3,394.1 L167.6,393.3 L169.0,392.6 L170.4,391.8 L171.7,391.0 L173.1,390.3 L174.4,389.5 L175.8,388.7 L177.1,387.9 L178.4,387.1 L179.7,386.3 L181.0,385.4 L182.3,384.6 L183.6,383.7 L184.9,382.8 L186.2,381.9 L187.4,381.0 L188.6,380.1 L189.9,379.2 L191.1,378.2 L192.3,377.3 L193.5,376.3 L194.6,375.3 L195.8,374.2 L196.9,373.2 L198.0,372.1 L199.1,371.0 L200.2,369.9 L201.2,368.7 L202.3,367.6 L203.3,366.4 L204.3,365.2 L205.2,363.9 L206.2,362.6 L207.1,361.3 L208.0,360.0" stroke-width="1.4" stroke-linecap="round"/>
<path d="M136.4,429.3 L137.7,428.6 L139.1,427.9 L140.4,427.2 L141.8,426.5 L143.1,425.8 L144.5,425.1 L145.8,424.4 L147.2,423.7 L148.5,423.0 L149.9,422.2 L151.2,421.5 L152.6,420.8 L153.9,420.1 L155.3,419.4 L156.6,418.6 L157.9,417.9 L159.3,417.2 L160.6,416.4 L162.0,415.7 L163.3,414.9 L164.6,414.2 L166.0,413.4 L167.3,412.7 L168.6,411.9 L169.9,411.1 L171.2,410.4 L172.6,409.6 L173.9,408.8 L175.2,408.0 L176.5,407.2 L177.8,406.4 L179.1,405.6 L180.3,404.8 L181.6,404.0 L182.9,403.1 L184.2,402.3 L185.4,401.5 L186.7,400.6 L188.0,399.8 L189.2,398.9 L190.5,398.0 L191.7,397.1 L192.9,396.3 L194.2,395.4 L195.4,394.5 L196.6,393.5 L197.8,392.6 L199.0,391.7 L200.2,390.8 L201.4,389.8 L202.6,388.9 L203.7,387.9 L204.9,386.9 L206.1,385.9 L207.2,385.0 L208.4,383.9 L209.5,382.9 L210.6,381.9 L211.7,380.9 L212.8,379.8 L213.9,378.8 L215.0,377.7 L216.1,376.6 L217.1,375.5 L218.2,374.5 L219.2,373.3 L220.3,372.2 L221.3,371.1 L222.3,369.9 L223.3,368.8 L224.3,367.6 L225.3,366.4 L226.3,365.2 L227.2,364.0 L228.2,362.8 L229.1,361.6 L230.1,360.3 L231.0,359.1 L231.9,357.8" stroke-width="3" stroke-linecap="round"/>
<ellipse cx="130.12" cy="422.65" rx="9.07" ry="6.59" transform="rotate(-122.6 130.12 422.65)" stroke-width="2.6" fill="#fff"/>
<ellipse cx="130.6" cy="422.7" rx="4.0" ry="6.0" transform="rotate(-25 130.6 422.7)" stroke-width="1.3" fill="#fff"/>
<path d="M97.12,435.50 L128.62,421.00 A3.30,3.30 0 0 1 131.38,427.00 L99.88,441.50 Z" stroke-width="1.25" fill="#fff" stroke="#222"/>
<ellipse cx="98.5" cy="438.5" rx="2.7" ry="3.6" transform="rotate(-24.7 98.5 438.5)" stroke-width="1.5" fill="#fff"/>
<path d="M186.4,363.5 L187.8,362.7 L189.1,361.8 L190.5,361.0 L191.8,360.2 L193.2,359.4 L194.5,358.5 L195.9,357.7 L197.3,356.9 L198.6,356.1 L200.0,355.3 L201.4,354.5 L202.7,353.7 L204.1,352.9 L205.5,352.1 L206.9,351.3 L208.2,350.5 L209.6,349.7 L211.0,348.9 L212.4,348.2 L213.8,347.4 L215.1,346.6 L216.5,345.8 L217.9,345.1 L219.3,344.3" stroke-width="2.6" stroke-linecap="round"/>
<path d="M193.7,373.4 L194.9,372.4 L196.2,371.4 L197.4,370.4 L198.6,369.4 L199.8,368.4 L200.9,367.3 L202.1,366.2 L203.2,365.1 L204.3,364.0 L205.4,362.9 L206.4,361.8 L207.5,360.6 L208.5,359.4 L209.5,358.3 L210.5,357.1 L211.4,355.8 L212.4,354.6 L213.3,353.3 L214.2,352.1 L215.1,350.8 L216.0,349.5 L216.8,348.2 L217.7,346.8 L218.5,345.5 L219.3,344.1" stroke-width="2.5" stroke-linecap="round"/>
<path d="M184.0,363.0 L192.5,374.0" stroke-width="4" stroke-linecap="butt"/>
</g>
<g font-family="Liberation Sans, sans-serif" font-weight="bold" font-size="25" fill="#111" stroke="#111" stroke-width="0.35">
<text transform="translate(0.6,153.5) scale(0.955,1)">Conductor</text>
<text transform="translate(167.3,153.3) scale(0.958,1)">Aluminum Shield</text>
<text transform="translate(622.5,324.7) scale(0.95,1)">PVC</text>
<text transform="translate(415.8,414) scale(0.962,1)">Ground drain</text>
<text transform="translate(371.6,470) scale(0.962,1)">Insulation</text>
</g>
</svg>
</body></html>
